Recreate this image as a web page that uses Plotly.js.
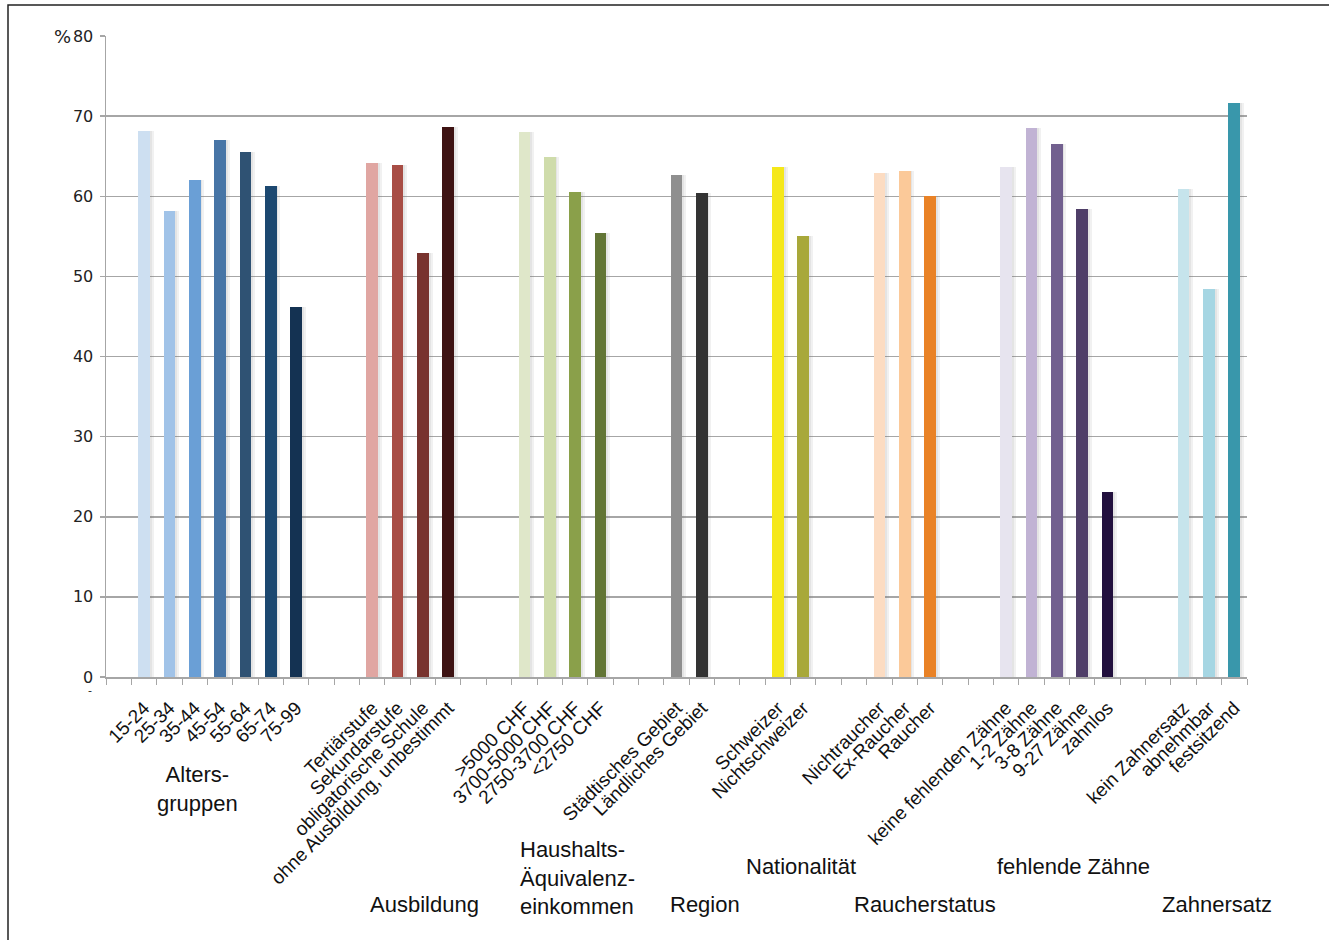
<!DOCTYPE html>
<html>
<head>
<meta charset="utf-8">
<script src="https://cdn.plot.ly/plotly-3.0.1.min.js"></script>
<style>html,body{margin:0;padding:0;background:#fff;}#chart{width:1329px;height:940px;}</style>
</head>
<body>
<div id="chart"></div>
<script>
// ---- Data ----
const groupTitles = ['Alters-<br>gruppen', 'Ausbildung', 'Haushalts-<br>Äquivalenz-<br>einkommen', 'Region', 'Nationalität', 'Raucherstatus', 'fehlende Zähne', 'Zahnersatz'];

const ageLabels = ['15-24', '25-34', '35-44', '45-54', '55-64', '65-74', '75-99'];
const ageValues = [68.2, 58.1, 62.0, 67.0, 65.5, 61.3, 46.2];

const eduLabels = ['Tertiärstufe', 'Sekundarstufe', 'obligatorische Schule', 'ohne Ausbildung, unbestimmt'];
const eduValues = [64.2, 63.9, 52.9, 68.7];

const incomeLabels = ['>5000 CHF', '3700-5000 CHF', '2750-3700 CHF', '<2750 CHF'];
const incomeValues = [68.0, 64.9, 60.5, 55.4];

const regionLabels = ['Städtisches Gebiet', 'Ländliches Gebiet'];
const regionValues = [62.7, 60.4];

const natLabels = ['Schweizer', 'Nichtschweizer'];
const natValues = [63.6, 55.1];

const smokeLabels = ['Nichtraucher', 'Ex-Raucher', 'Raucher'];
const smokeValues = [62.9, 63.2, 60.0];

const teethLabels = ['keine fehlenden Zähne', '1-2 Zähne', '3-8 Zähne', '9-27 Zähne', 'zahnlos'];
const teethValues = [63.6, 68.5, 66.5, 58.4, 23.1];

const prosthLabels = ['kein Zahnersatz', 'abnehmbar', 'festsitzend'];
const prosthValues = [60.9, 48.4, 71.7];

const yTicks = [0, 10, 20, 30, 40, 50, 60, 70, 80];

// ---- Styles ----
const ageColors = ['#cddff1', '#a1c3e8', '#6a9fd6', '#4775a6', '#2f5273', '#1c4870', '#143252'];
const eduColors = ['#e0a6a2', '#a84d45', '#78332e', '#3e1313'];
const incomeColors = ['#dfe7c9', '#cfdcab', '#8aa04a', '#627535'];
const regionColors = ['#8f8f8f', '#333333'];
const natColors = ['#f5e81a', '#a8a83a'];
const smokeColors = ['#fcdcc2', '#fbc999', '#e98226'];
const teethColors = ['#e7e4ef', '#c1b3d4', '#72608f', '#4f3e68', '#22103e'];
const prosthColors = ['#c6e4ec', '#a6d6e3', '#3997ab'];

const groups = [
  [ageLabels, ageValues, ageColors],
  [eduLabels, eduValues, eduColors],
  [incomeLabels, incomeValues, incomeColors],
  [regionLabels, regionValues, regionColors],
  [natLabels, natValues, natColors],
  [smokeLabels, smokeValues, smokeColors],
  [teethLabels, teethValues, teethColors],
  [prosthLabels, prosthValues, prosthColors]
];

// build slot positions: one empty slot at start, two empty slots between groups
const xs = [], ys = [], cols = [], labs = [];
let slot = 1;
groups.forEach((g) => {
  g[0].forEach((lab, i) => {
    xs.push(slot); ys.push(g[1][i]); cols.push(g[2][i]); labs.push(lab);
    slot++;
  });
  slot += 2;
});
const nSlots = slot - 2; // 45

// ---- Layout helpers (pixel -> paper) ----
const L = 106, R = 1247, T = 36, B = 677;
const px2x = p => (p - L) / (R - L);
const py2y = p => (B - p) / (B - T);

const shadow = {
  type: 'bar', x: xs, y: ys, width: 0.58, offset: -0.2,
  marker: {color: 'rgba(120,120,120,0.10)', line: {width: 0}},
  hoverinfo: 'skip', showlegend: false
};
const shadow2 = {
  type: 'bar', x: xs, y: ys, width: 0.5, offset: -0.2,
  marker: {color: 'rgba(120,120,120,0.10)', line: {width: 0}},
  hoverinfo: 'skip', showlegend: false
};
const bars = {
  type: 'bar', x: xs, y: ys, width: 0.46,
  marker: {color: cols, line: {width: 0}},
  showlegend: false
};

const font = 'Liberation Sans, Arial, Helvetica, sans-serif';
const groupPos = [
  [197, 789, 'center'], [424, 904, 'center'], [518, 878, 'left'], [705, 904, 'center'],
  [801, 866, 'center'], [925, 904, 'center'], [1073, 866, 'center'], [1217, 904, 'center']
];
const annotations = groupTitles.map((t, i) => ({
  text: t, xref: 'paper', yref: 'paper',
  x: px2x(groupPos[i][0]), y: py2y(groupPos[i][1]),
  xanchor: groupPos[i][2], yanchor: 'middle', align: groupPos[i][2] === 'left' ? 'left' : 'center',
  showarrow: false, font: {family: font, size: 22, color: '#111'}
}));
annotations.push({text: '%', xref: 'paper', yref: 'paper', x: px2x(73), y: py2y(37),
  xanchor: 'right', yanchor: 'middle', showarrow: false, xshift: 0,
  font: {family: 'DejaVu Sans, sans-serif', size: 18, color: '#222'}});
annotations.push({text: '-', xref: 'paper', yref: 'paper', x: px2x(90), y: py2y(690),
  xanchor: 'center', yanchor: 'middle', showarrow: false,
  font: {family: 'DejaVu Sans, sans-serif', size: 11, color: '#222'}});

const layout = {
  width: 1329, height: 940,
  margin: {l: L, r: 1329 - R, t: T, b: 940 - B, pad: 0},
  paper_bgcolor: '#fff', plot_bgcolor: '#fff',
  barmode: 'overlay', bargap: 0,
  xaxis: {
    range: [-0.5, nSlots - 0.5], tickmode: 'array', tickvals: xs, ticktext: labs,
    tickangle: -45, ticks: '', ticklen: 0, showgrid: false, zeroline: false,
    showline: true, linecolor: '#a6a6a6', linewidth: 1.5,
    tickfont: {family: font, size: 19, color: '#111'},
    ticklabelstandoff: 11,
    minor: {tick0: -0.5, dtick: 1, ticks: 'outside', ticklen: 6, tickcolor: '#a6a6a6', tickwidth: 1, showgrid: false},
    fixedrange: true
  },
  yaxis: {
    range: [0, 80], tickmode: 'array', tickvals: yTicks, ticktext: yTicks.map(String),
    ticks: 'outside', ticklen: 5, tickcolor: '#a6a6a6', tickwidth: 1.5,
    showgrid: true, gridcolor: '#a6a6a6', gridwidth: 1.5, zeroline: false,
    showline: true, linecolor: '#a6a6a6', linewidth: 1.5,
    tickfont: {family: 'DejaVu Sans, sans-serif', size: 16, color: '#222'},
    ticklabelstandoff: 3,
    fixedrange: true
  },
  shapes: [{
    type: 'rect', xref: 'paper', yref: 'paper',
    x0: px2x(8), x1: px2x(1340), y0: py2y(950), y1: py2y(5),
    line: {color: '#222', width: 1.5}, fillcolor: 'rgba(0,0,0,0)', layer: 'below'
  }],
  annotations: annotations,
  showlegend: false
};

Plotly.newPlot('chart', [shadow, shadow2, bars], layout, {displayModeBar: false, staticPlot: true});
</script>
</body>
</html>
